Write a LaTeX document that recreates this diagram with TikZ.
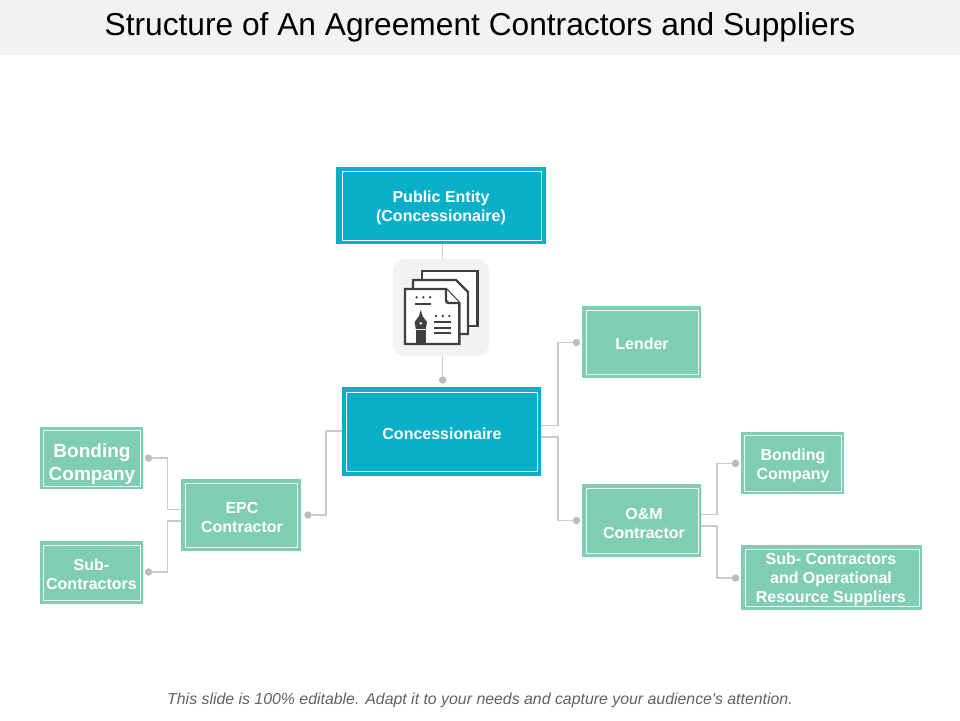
\documentclass[tikz,border=0pt]{standalone}
\usepackage{fontspec}
\setmainfont{Liberation Sans}
\newfontfamily\plainfont{Liberation Sans}
\definecolor{teal1}{HTML}{08AFC8}
\definecolor{green1}{HTML}{7FCDB3}
\definecolor{band}{HTML}{F2F2F2}
\definecolor{conn}{HTML}{CBCBCB}
\definecolor{dotc}{HTML}{BDBDBD}
\definecolor{ink}{HTML}{404040}
\tikzset{
  outer/.style={rectangle,inner sep=0pt,outer sep=0pt,draw=none},
  tealbox/.style={outer,fill=teal1},
  greenbox/.style={outer,fill=green1},
  rim/.style={draw=white!85!green1,line width=0.9pt},
  lbl/.style={align=center,text=white,inner sep=0pt,font=\bfseries\fontsize{16}{19}\selectfont},
  lblbig/.style={lbl,font=\bfseries\fontsize{19}{23}\selectfont},
  conline/.style={draw=conn,line width=1.1pt},
  dotn/.style={circle,fill=dotc,inner sep=0pt,outer sep=0pt,minimum size=7.5pt},
  page/.style={draw=ink,line width=2.4pt,fill=white,line join=miter},
  penstroke/.style={draw=ink,line width=2.2pt},
  inkdot/.style={fill=ink,draw=none}
}
\begin{document}
\begin{tikzpicture}[x=1pt,y=-1pt]
\useasboundingbox (0,0) rectangle (960,720);
\fill[band] (0,0) rectangle (960,54.5);
\node[inner sep=0pt,font=\fontsize{31.7}{36}\selectfont,text=black] (title) at (480,27) {Structure of An Agreement Contractors and Suppliers};
\node[inner sep=0pt,font=\plainfont\itshape\fontsize{15.87}{19}\selectfont,text=black!62] (foot) at (480,700) {This slide is 100\% editable. Adapt it to your needs and capture your audience's attention.};

% connectors first
\coordinate (epcA) at (181,509.5);
\coordinate (epcB) at (181,521);
\coordinate (conL) at (342,431);
\coordinate (conA) at (541,425.5);
\coordinate (conB) at (541,437);
\coordinate (omA) at (701,514.5);
\coordinate (omB) at (701,526);
\coordinate (jl) at (167.5,0);
\coordinate (je) at (326,0);
\coordinate (jc) at (558,0);
\coordinate (jo) at (717,0);
\node[dotn] (d1) at (148.5,458) {};
\node[dotn] (d2) at (148.5,572) {};
\node[dotn] (d3) at (308,515) {};
\node[dotn] (d4) at (576.5,342.5) {};
\node[dotn] (d5) at (576.5,520.5) {};
\node[dotn] (d6) at (735.5,463.5) {};
\node[dotn] (d7) at (735.5,578) {};
\node[dotn] (d8) at (442.7,380) {};
\draw[conline] (d1) -- (d1-|jl) -- (jl|-epcA) -- (epcA);
\draw[conline] (d2) -- (d2-|jl) -- (jl|-epcB) -- (epcB);
\draw[conline] (d3) -- (d3-|je) -- (je|-conL) -- (conL);
\draw[conline] (d4) -- (d4-|jc) -- (jc|-conA) -- (conA);
\draw[conline] (d5) -- (d5-|jc) -- (jc|-conB) -- (conB);
\draw[conline] (d6) -- (d6-|jo) -- (jo|-omA) -- (omA);
\draw[conline] (d7) -- (d7-|jo) -- (jo|-omB) -- (omB);

% boxes
\node[tealbox,minimum width=210pt,minimum height=76.5pt] (pub) at (441,205.5) {};
\draw[rim] (342.5,171.5) rectangle (541,240);
\node[lbl] (pubT) at (441,207.5) {Public Entity\\(Concessionaire)};

\node[tealbox,minimum width=199pt,minimum height=88.5pt] (con) at (441.5,431.5) {};
\draw[rim] (346.5,392) rectangle (537.5,471.5);
\node[lbl] (conT) at (442,434) {Concessionaire};

\node[greenbox,minimum width=103pt,minimum height=62pt] (bl) at (91.5,458) {};
\draw[rim] (43.5,430.5) rectangle (140.5,486.5);
\node[lblbig] (blT) at (92,464) {Bonding\\Company};

\node[greenbox,minimum width=103pt,minimum height=62.5pt] (sl) at (91.5,572.3) {};
\draw[rim] (43.5,545.5) rectangle (140.5,600);
\node[lbl] (slT) at (91.5,574.5) {Sub-\\Contractors};

\node[greenbox,minimum width=120pt,minimum height=72pt] (epc) at (241,515) {};
\draw[rim] (185.5,483.5) rectangle (297.5,547);
\node[lbl] (epcT) at (242,517.5) {EPC\\Contractor};

\node[greenbox,minimum width=119pt,minimum height=72pt] (len) at (641.5,342) {};
\draw[rim] (586.5,310.5) rectangle (698.5,374.5);
\node[lbl] (lenT) at (642,344) {Lender};

\node[greenbox,minimum width=119pt,minimum height=73pt] (om) at (641.5,520.5) {};
\draw[rim] (586.5,488.5) rectangle (698.5,553.5);
\node[lbl] (omT) at (644,523) {O\&M\\Contractor};

\node[greenbox,minimum width=103pt,minimum height=62pt] (br) at (792.5,463) {};
\draw[rim] (744.5,435.5) rectangle (841,491.5);
\node[lbl] (brT) at (793,466) {Bonding\\Company};

\node[greenbox,minimum width=181pt,minimum height=65pt] (sr) at (831.5,577.5) {};
\draw[rim] (745,549.5) rectangle (919,606);
\node[lbl] (srT) at (831,579.5) {Sub- Contractors\\and Operational\\Resource Suppliers};

% icon
\node[rectangle,fill=band,rounded corners=12pt,minimum width=96pt,minimum height=97pt,inner sep=0pt,outer sep=0pt] (icon) at (441,307.5) {};
\draw[conline] (pub.south-|d8) -- (icon.north-|d8);
\draw[conline] (icon.south-|d8) -- (d8);
\draw[page] (422,271) -- (477.3,271) -- (477.3,325.7) -- (422,325.7) -- cycle;
\draw[page] (413,280) -- (456,280) -- (468,292) -- (468,334) -- (413,334) -- cycle;
\draw[page] (405,289) -- (446,289) -- (459.3,303) -- (459.3,344) -- (405,344) -- cycle;
\draw[page] (446,289) -- (446,300) .. controls (446,302) and (447,303) .. (449,303) -- (459.3,303);
\foreach \dx in {416.7,423.3,430} \fill[inkdot] (\dx,297.3) circle (1.3);
\draw[penstroke] (415,304) -- (430.7,304);
\foreach \dx in {436,442.7,449.3} \fill[inkdot] (\dx,316) circle (1.3);
\draw[penstroke] (434,322.3) -- (451,322.3);
\draw[penstroke] (434,327.7) -- (451,327.7);
\draw[penstroke] (434,333.3) -- (451,333.3);
\fill[inkdot,even odd rule] (420.8,310) -- (422.5,316) -- (427,322) -- (425.8,329) -- (415.8,329) -- (414.6,322) -- (419,316) -- cycle (420.8,323.3) circle (1.7);
\fill[inkdot] (416.2,330) rectangle (425.5,344);
\end{tikzpicture}
\end{document}
